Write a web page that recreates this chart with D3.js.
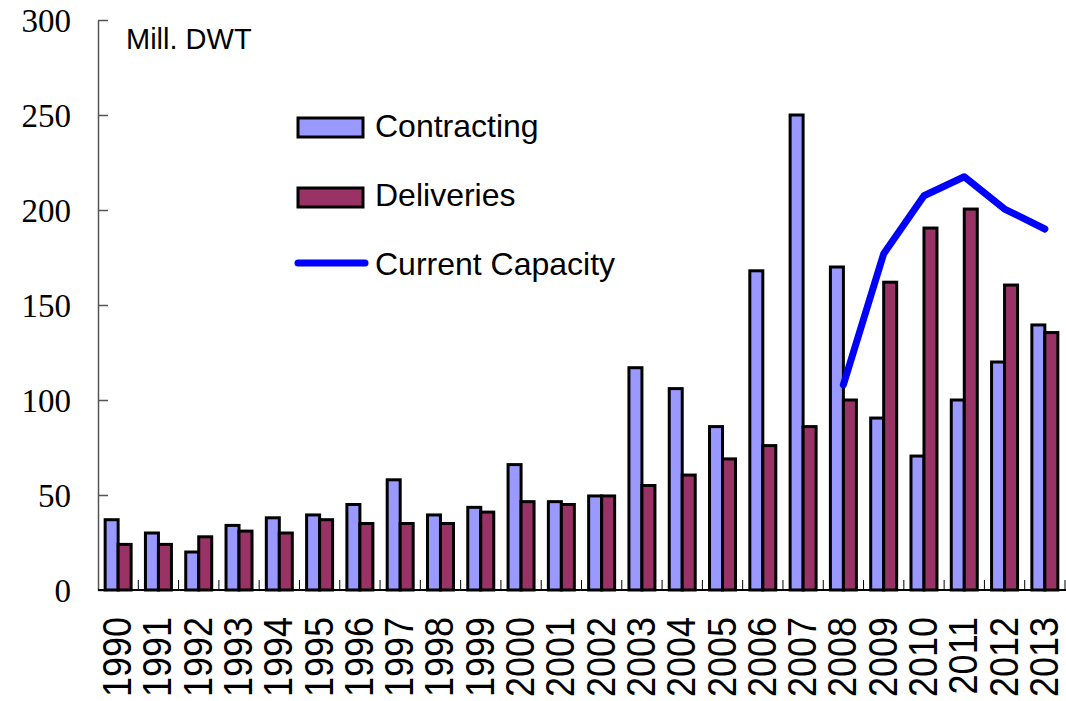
<!DOCTYPE html>
<html>
<head>
<meta charset="utf-8">
<script src="https://cdn.jsdelivr.net/npm/d3@7"></script>
<style>
  body { margin: 0; background: #fff; }
  svg { display: block; }
</style>
</head>
<body>
<svg id="chart" width="1066" height="701"></svg>
<script>
"use strict"

const years = ["1990","1991","1992","1993","1994","1995","1996","1997","1998","1999","2000","2001",
               "2002","2003","2004","2005","2006","2007","2008","2009","2010","2011","2012","2013"]
const contracting = [37, 30, 20, 34, 38, 39.5, 45, 58, 39.5, 43.5, 66, 46.5,
                     49.5, 117, 106, 86, 168, 250, 170, 90.5, 70.5, 100, 120, 139.5]
const deliveries = [24, 24, 28, 31, 30, 37, 35, 35, 35, 41, 46.5, 45,
                    49.5, 55, 60.5, 69, 76, 86, 100, 162, 190.5, 200.5, 160.5, 135.5]
const capacityYears = ["2008","2009","2010","2011","2012","2013"]
const capacity = [108, 177, 207.5, 217.5, 200.5, 190]
const yTicks = [0, 50, 100, 150, 200, 250, 300]

const svg = d3.select("#chart")

const plotLeft = 98, plotRight = 1065, plotTop = 20, plotBottom = 590

let x = d3.scaleBand().domain(years).range([plotLeft, plotRight])
    .paddingInner(0.355).paddingOuter(0.1775)
let sub = d3.scaleBand().domain(["c", "d"]).range([0, x.bandwidth()])
let y = d3.scaleLinear().domain([0, 300]).range([plotBottom, plotTop])

// y axis (ticks pointing inside)
let yAxis = svg.append("g")
    .attr("transform", "translate(" + plotLeft + ",0)")
    .call(d3.axisRight(y).tickValues(yTicks).tickSize(10).tickSizeOuter(0).tickFormat(""))
yAxis.select(".domain").attr("stroke", "#555").attr("stroke-width", 1.5)
yAxis.selectAll(".tick line").attr("stroke", "#555").attr("stroke-width", 1.5)

svg.append("g").selectAll("text")
    .data(yTicks)
    .enter().append("text")
    .attr("x", 71)
    .attr("y", d => y(d))
    .attr("dy", "0.35em")
    .attr("text-anchor", "end")
    .attr("font-family", "'Liberation Serif', 'Times New Roman', serif")
    .attr("font-size", 33)
    .text(d => d)

// bars
let groups = svg.append("g").selectAll("g")
    .data(years)
    .enter().append("g")
    .attr("transform", d => "translate(" + x(d) + ",0)")

groups.append("rect")
    .attr("x", sub("c"))
    .attr("y", (d, i) => y(contracting[i]))
    .attr("width", sub.bandwidth())
    .attr("height", (d, i) => plotBottom - y(contracting[i]))
    .attr("fill", "#9999ff")
    .attr("stroke", "#000")
    .attr("stroke-width", 3)

groups.append("rect")
    .attr("x", sub("d"))
    .attr("y", (d, i) => y(deliveries[i]))
    .attr("width", sub.bandwidth())
    .attr("height", (d, i) => plotBottom - y(deliveries[i]))
    .attr("fill", "#993366")
    .attr("stroke", "#000")
    .attr("stroke-width", 3)

// x axis line and category separators
svg.append("line")
    .attr("x1", plotLeft).attr("x2", 1066)
    .attr("y1", plotBottom).attr("y2", plotBottom)
    .attr("stroke", "#000").attr("stroke-width", 2)

let sepX = d => x(d) + x.bandwidth() + x.step() * 0.1775
svg.append("g").selectAll("line")
    .data(years)
    .enter().append("line")
    .attr("x1", sepX)
    .attr("x2", sepX)
    .attr("y1", plotBottom - 10).attr("y2", plotBottom)
    .attr("stroke", "#000").attr("stroke-width", 1)

// x labels (glyphs a bit taller than wide, like the original)
svg.append("g").selectAll("text")
    .data(years)
    .enter().append("text")
    .attr("transform", d => "translate(" + (x(d) + x.bandwidth() / 2 + 13) + "," + 617 + ") rotate(-90) scale(1,1.12)")
    .attr("text-anchor", "end")
    .attr("font-family", "'Liberation Sans', Arial, sans-serif")
    .attr("font-size", 36)
    .text(d => d)

// capacity line
let line = d3.line()
    .x((d, i) => x(capacityYears[i]) + x.bandwidth() / 2)
    .y(d => y(d))

svg.append("path")
    .datum(capacity)
    .attr("d", line)
    .attr("fill", "none")
    .attr("stroke", "#0000ff")
    .attr("stroke-width", 7)
    .attr("stroke-linecap", "round")
    .attr("stroke-linejoin", "round")

// unit label
svg.append("text")
    .attr("x", 126).attr("y", 49)
    .attr("font-family", "'Liberation Sans', Arial, sans-serif")
    .attr("font-size", 29)
    .text("Mill. DWT")

// legend
let legend = svg.append("g")
const legendFont = "'Liberation Sans', Arial, sans-serif"

legend.append("rect")
    .attr("x", 298).attr("y", 118).attr("width", 65).attr("height", 19)
    .attr("fill", "#9999ff").attr("stroke", "#000").attr("stroke-width", 3)
legend.append("text")
    .attr("x", 375).attr("y", 137)
    .attr("font-family", legendFont).attr("font-size", 32)
    .text("Contracting")

legend.append("rect")
    .attr("x", 298).attr("y", 188).attr("width", 65).attr("height", 19)
    .attr("fill", "#993366").attr("stroke", "#000").attr("stroke-width", 3)
legend.append("text")
    .attr("x", 375).attr("y", 206)
    .attr("font-family", legendFont).attr("font-size", 32)
    .text("Deliveries")

legend.append("line")
    .attr("x1", 298).attr("x2", 365).attr("y1", 263).attr("y2", 263)
    .attr("stroke", "#0000ff").attr("stroke-width", 7).attr("stroke-linecap", "round")
legend.append("text")
    .attr("x", 375).attr("y", 275)
    .attr("font-family", legendFont).attr("font-size", 32)
    .text("Current Capacity")
</script>
</body>
</html>
